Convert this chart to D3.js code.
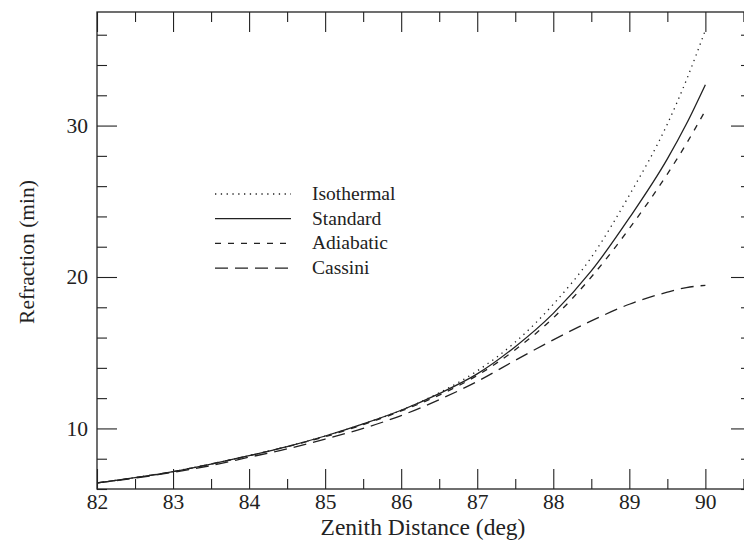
<!DOCTYPE html>
<html>
<head>
<meta charset="utf-8">
<script src="https://cdn.jsdelivr.net/npm/d3@7"></script>
<style>
  body { margin: 0; background: #fff; }
  text { font-family: "Liberation Serif", "DejaVu Serif", serif; fill: #222; }
</style>
</head>
<body>
<script>
// zenith distance (deg)
var zenith = [82, 82.5, 83, 83.5, 84, 84.5, 85, 85.5, 86, 86.5, 87, 87.5, 88, 88.5, 89, 89.5, 89.75, 90]

// refraction (min)
var isothermal = [6.4, 6.75, 7.15, 7.65, 8.2, 8.8, 9.5, 10.3, 11.2, 12.35, 13.8, 15.7, 18.2, 21.3, 25.4, 30.1, 33.0, 36.3]
var standard   = [6.4, 6.75, 7.15, 7.65, 8.2, 8.8, 9.5, 10.3, 11.2, 12.3, 13.6, 15.4, 17.6, 20.4, 23.9, 27.8, 30.1, 32.7]
var adiabatic  = [6.4, 6.75, 7.15, 7.65, 8.2, 8.8, 9.45, 10.25, 11.15, 12.2, 13.5, 15.2, 17.3, 20.0, 23.2, 26.8, 28.8, 31.0]
var cassini    = [6.4, 6.72, 7.1, 7.55, 8.1, 8.65, 9.3, 10.0, 10.85, 11.9, 13.1, 14.5, 15.85, 17.1, 18.2, 19.0, 19.3, 19.45]

var seriesNames = ['Isothermal', 'Standard', 'Adiabatic', 'Cassini']
var seriesValues = [isothermal, standard, adiabatic, cassini]
var dashes = ['1.3,4.5', null, '6,7', '13,7']

var xMajor = [82, 83, 84, 85, 86, 87, 88, 89, 90]
var xMinor = [82.5, 83.5, 84.5, 85.5, 86.5, 87.5, 88.5, 89.5, 90.5]
var yMajor = [10, 20, 30]
var yMinor = [6, 8, 12, 14, 16, 18, 22, 24, 26, 28, 32, 34, 36]

var W = 744, H = 542
var m = { left: 97, top: 12, right: 751, bottom: 489 }

var x = d3.scaleLinear().domain([82, 90.6]).range([m.left, m.right])
var y = d3.scaleLinear().domain([6, 37.5]).range([m.bottom, m.top])

var svg = d3.select('body').append('svg')
    .attr('width', W)
    .attr('height', H)

// axes: ticks point inward on all four sides
function tickAxis(axis, vals, size) {
    return axis.tickValues(vals).tickSize(size).tickFormat('')
}

svg.append('g').attr('transform', 'translate(0,' + m.bottom + ')')
    .call(tickAxis(d3.axisBottom(x), xMinor, -10))
svg.append('g').attr('transform', 'translate(0,' + m.bottom + ')')
    .call(d3.axisBottom(x).tickValues(xMajor).tickSize(-20).tickPadding(5).tickFormat(d3.format('d')))
svg.append('g').attr('transform', 'translate(0,' + m.top + ')')
    .call(tickAxis(d3.axisTop(x), xMinor, -10))
svg.append('g').attr('transform', 'translate(0,' + m.top + ')')
    .call(tickAxis(d3.axisTop(x), xMajor, -20))
svg.append('g').attr('transform', 'translate(' + m.left + ',0)')
    .call(tickAxis(d3.axisLeft(y), yMinor, -10))
svg.append('g').attr('transform', 'translate(' + m.left + ',0)')
    .call(d3.axisLeft(y).tickValues(yMajor).tickSize(-20).tickPadding(9).tickFormat(d3.format('d')))
svg.append('g').attr('transform', 'translate(' + m.right + ',0)')
    .call(tickAxis(d3.axisRight(y), yMinor, -10))
svg.append('g').attr('transform', 'translate(' + m.right + ',0)')
    .call(tickAxis(d3.axisRight(y), yMajor, -20))

svg.selectAll('.domain').remove()
svg.selectAll('.tick line').attr('stroke', '#222').attr('stroke-width', 1.1)
svg.selectAll('.tick text').style('font-size', '21.5px').attr('fill', '#222')

// frame
svg.append('rect')
    .attr('x', m.left).attr('y', m.top)
    .attr('width', m.right - m.left).attr('height', m.bottom - m.top)
    .attr('fill', 'none').attr('stroke', '#222').attr('stroke-width', 1.3)

// curves
var line = d3.line()
    .x(d => x(d[0]))
    .y(d => y(d[1]))
    .curve(d3.curveMonotoneX)

seriesValues.forEach((vals, i) => {
    svg.append('path')
        .datum(zenith.map((z, j) => [z, vals[j]]))
        .attr('d', line)
        .attr('fill', 'none')
        .attr('stroke', '#222')
        .attr('stroke-width', 1.3)
        .attr('stroke-dasharray', dashes[i])
})

// legend
var legend = svg.append('g').attr('transform', 'translate(215,194)')
seriesNames.forEach((name, i) => {
    var g = legend.append('g').attr('transform', 'translate(0,' + (i * 24.7) + ')')
    g.append('line')
        .attr('x1', 0).attr('x2', 76)
        .attr('stroke', '#222').attr('stroke-width', 1.3)
        .attr('stroke-dasharray', dashes[i])
    g.append('text')
        .attr('x', 97).attr('y', 6)
        .style('font-size', '19.5px')
        .text(name)
})

// axis titles
svg.append('text')
    .attr('x', 423).attr('y', 535)
    .attr('text-anchor', 'middle')
    .style('font-size', '23.5px')
    .text('Zenith Distance (deg)')

svg.append('text')
    .attr('transform', 'translate(34,252) rotate(-90)')
    .attr('text-anchor', 'middle')
    .style('font-size', '21.5px')
    .text('Refraction (min)')
</script>
</body>
</html>
